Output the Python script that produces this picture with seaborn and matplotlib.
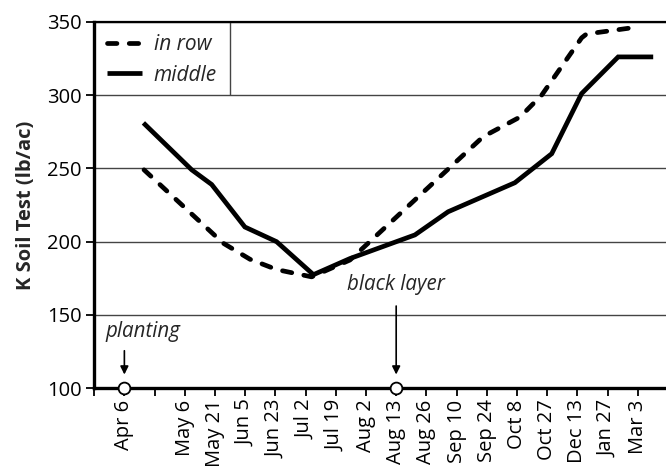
import matplotlib
matplotlib.use('Agg')
import matplotlib.pyplot as plt
import pandas as pd
import seaborn as sns

# tick labels on the category axis (first and third slots have no label)
tick_labels = ['', 'Apr 6', '', 'May 6', 'May 21', 'Jun 5', 'Jun 23', 'Jul 2',
               'Jul 19', 'Aug 2', 'Aug 13', 'Aug 26', 'Sep 10', 'Sep 24',
               'Oct 8', 'Oct 27', 'Dec 13', 'Jan 27', 'Mar 3']

# values (x in tick-slot units)
in_row_x = [1.65, 4.27, 5.16, 6.04, 7.2, 8.47, 12.88, 14.1, 14.82, 16.14, 16.3, 18.07]
in_row_y = [249, 199, 188, 181, 176, 187.5, 271.6, 285, 300, 339, 341.6, 346.6]
middle_x = [1.63, 3.23, 3.89, 4.99, 6.04, 7.26, 8.47, 10.62, 11.72, 13.93,
            15.15, 16.14, 17.35, 18.51]
middle_y = [281, 249, 239, 210, 200, 177.5, 188.5, 204.6, 220.4, 240.2,
            260, 301, 326, 326]

events = ['planting', 'black layer']
event_x = [1, 10]
event_y = [100, 100]

df = pd.concat([
    pd.DataFrame({'x': in_row_x, 'y': in_row_y, 'series': 'in row'}),
    pd.DataFrame({'x': middle_x, 'y': middle_y, 'series': 'middle'}),
])

sns.set_theme(style='white')
plt.rcParams['font.family'] = ['Open Sans', 'DejaVu Sans']

fig = plt.figure(figsize=(6.66, 4.67), dpi=100)
ax = fig.add_axes([0.1414, 0.1685, 0.8616, 0.785])

ax.set_axisbelow(True)
ax.yaxis.grid(True, color='#444444', lw=1.0)

sns.lineplot(data=df, x='x', y='y', style='series', style_order=['in row', 'middle'],
             dashes={'in row': (2.0, 2.6), 'middle': ''}, color='black', lw=3.4,
             sort=False, estimator=None, ax=ax, dash_capstyle='round',
             solid_capstyle='butt', solid_joinstyle='miter')

ax.plot(event_x, event_y, 'o', ms=8.5, mfc='white', mec='black', mew=1.3,
        clip_on=False, zorder=5)

# annotations
ax.text(0.36, 138.5, events[0], fontsize=14.8, style='italic', ha='left', va='center')
ax.annotate('', xy=(event_x[0], 107.5), xytext=(event_x[0], 127.5),
            arrowprops=dict(arrowstyle='-|>', color='black', lw=1.2, mutation_scale=12))
ax.text(event_x[1], 171, events[1], fontsize=14.8, style='italic', ha='center', va='center')
ax.annotate('', xy=(event_x[1], 107.5), xytext=(event_x[1], 158),
            arrowprops=dict(arrowstyle='-|>', color='black', lw=1.2, mutation_scale=12))

ax.set_xlim(0, 19)
ax.set_ylim(100, 350)
ax.set_yticks([100, 150, 200, 250, 300, 350])
ax.set_xticks(range(len(tick_labels)))
ax.set_xticklabels(tick_labels, rotation=90, ha='center', va='top')
ax.tick_params(axis='both', labelsize=14.5, length=6, width=1.3, color='black',
               labelcolor='black', direction='out', pad=2)
ax.tick_params(axis='y', pad=3)
ax.tick_params(left=True, bottom=True)

ax.set_xlabel('')
ax.set_ylabel('K Soil Test (lb/ac)', fontsize=14.5, fontweight='bold', labelpad=8)

for side in ['left', 'bottom']:
    ax.spines[side].set_linewidth(2.4)
    ax.spines[side].set_color('black')
ax.spines['top'].set_linewidth(1.6)
ax.spines['top'].set_color('black')
ax.spines['right'].set_visible(False)

# legend box bounded by the axis, top line and 300 gridline
leg = ax.legend(loc='upper left', bbox_to_anchor=(0.0, 1.0), frameon=False,
                fontsize=15, handlelength=1.7, handletextpad=0.55, borderaxespad=0.2,
                labelspacing=0.45)
for t in leg.get_texts():
    t.set_style('italic')
ax.vlines(4.5, 300, 350, color='#444444', lw=1.0)

fig.savefig('out.png', dpi=100)
